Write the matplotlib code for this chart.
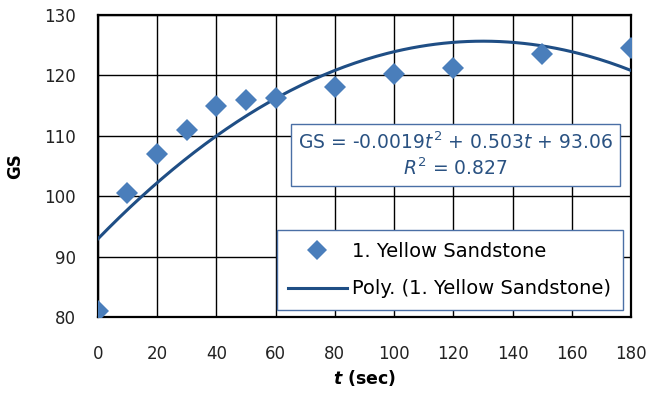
import numpy as np
import matplotlib as mpl
mpl.rcParams.update({'font.family': 'DejaVu Sans'})
import matplotlib.pyplot as plt

# Measured grain size values
t_sec = [0, 10, 20, 30, 40, 50, 60, 80, 100, 120, 150, 180]
gs = [81.0, 100.5, 107.0, 111.0, 115.0, 116.0, 116.2, 118.1, 120.3, 121.2, 123.6, 124.6]

# Trendline as printed on the chart (t^2, t, 1)
poly_coef = [-0.0019, 0.503, 93.06]
r2 = 0.827

xticks = [0, 20, 40, 60, 80, 100, 120, 140, 160, 180]
yticks = [80, 90, 100, 110, 120, 130]

fig = plt.figure(figsize=(6.52, 4.0), dpi=100)
ax = fig.add_axes([0.150, 0.2075, 0.818, 0.755])

# 2nd order polynomial trendline, fitted like Excel does
fit = np.polyfit(t_sec, gs, 2)
tt = np.linspace(0, 180, 200)
ax.plot(tt, np.polyval(fit, tt), color='#1f4e85', lw=2.2,
        label='Poly. (1. Yellow Sandstone)', zorder=3)
ax.plot(t_sec, gs, 'D', color='#4a7ebb', markersize=11.5, markeredgewidth=0,
        label='1. Yellow Sandstone', zorder=4)

ax.set_xlim(0, 180)
ax.set_ylim(80, 130)
ax.set_xticks(xticks)
ax.set_yticks(yticks)
ax.tick_params(length=0, labelsize=12, colors='#222222')
ax.tick_params(axis='x', pad=20)
ax.tick_params(axis='y', pad=16)
ax.grid(True, color='black', lw=1.0)
ax.set_axisbelow(True)
for s in ax.spines.values():
    s.set_linewidth(1.6)
    s.set_color('black')

ax.set_ylabel('GS', fontsize=12, fontweight='bold', labelpad=14)
ax.set_xlabel(r'$\mathbfit{t}$ (sec)', fontsize=12.5, fontweight='bold', labelpad=4)

# equation box
ax.text(0.671, 0.536,
        'GS = %.4f$t^2$ + %.3f$t$ + %.2f\n$R^2$ = %.3f' % (poly_coef[0], poly_coef[1], poly_coef[2], r2),
        transform=ax.transAxes, ha='center', va='center', fontsize=13.5,
        color='#2a5282', linespacing=1.3, zorder=6,
        bbox=dict(boxstyle='square,pad=0.38', facecolor='white', edgecolor='#4a6fa5', lw=1.0))

h, l = ax.get_legend_handles_labels()
leg = ax.legend(h[::-1], l[::-1], loc='lower right', bbox_to_anchor=(0.985, 0.023),
                borderaxespad=0, fancybox=False, framealpha=1, edgecolor='#4a6fa5',
                fontsize=14, handlelength=3.0, handletextpad=0.3, borderpad=0.6,
                labelspacing=0.95, markerscale=0.85)
leg.get_frame().set_linewidth(1.0)
leg.set_zorder(7)

fig.savefig('out.png', dpi=100)
